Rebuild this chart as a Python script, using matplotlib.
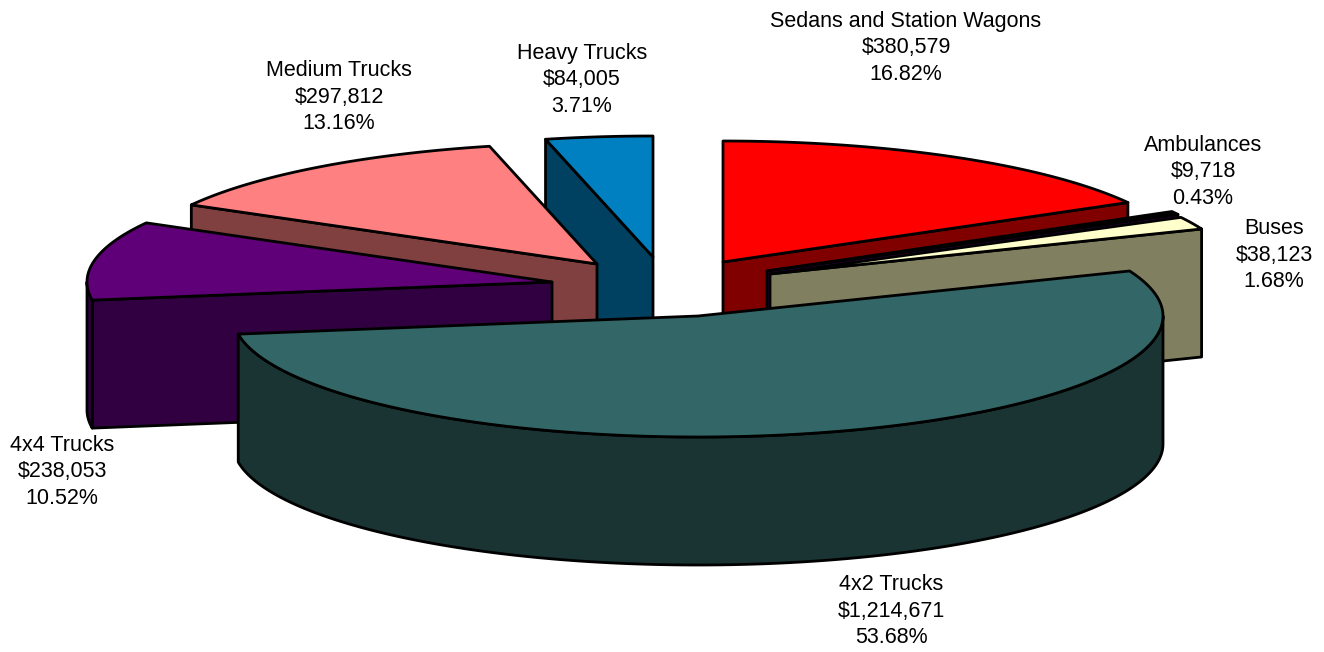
import numpy as np
import matplotlib
matplotlib.use("Agg")
import matplotlib.pyplot as plt
from matplotlib.patches import Polygon

categories = ["Sedans and Station Wagons", "Ambulances", "Buses", "4x2 Trucks",
              "4x4 Trucks", "Medium Trucks", "Heavy Trucks"]
values = [380579, 9718, 38123, 1214671, 238053, 297812, 84005]

top_colors = ["#FF0000", "#000000", "#FFFFCC", "#336666", "#600078", "#FF8080", "#0080C0"]
side_colors = ["#800000", "#300040", "#808060", "#1A3333", "#300040", "#804040", "#004060"]

# layout: where each exploded slice's apex sits (pixels)
apex_x = [723, 767, 770, 698, 552, 597, 653]
apex_y = [262, 271, 274, 316, 282, 264, 257]
label_x = [906, 1203, 1274, 891, 62, 339, 582]
label_y = [48, 172, 255, 611, 472, 97, 80]
RX, RY, DEPTH = 465, 121, 128
draw_order = [6, 5, 4, 0, 1, 2, 3]

plt.rcParams["font.family"] = ["Liberation Sans", "DejaVu Sans"]
fig = plt.figure(figsize=(13.24, 6.52), dpi=100)
ax = fig.add_axes([0, 0, 1, 1])
ax.set_xlim(0, 1324)
ax.set_ylim(652, 0)
ax.axis("off")

total = sum(values)
edges = np.concatenate([[0], np.cumsum(values)]) / total * 2 * np.pi
LW = 2.0


def rim(ax0, ay0, a):
    return ax0 + RX * np.sin(a), ay0 - RY * np.cos(a)


def add(pts, color, z):
    ax.add_patch(Polygon(pts, closed=True, facecolor=color, edgecolor="black",
                         linewidth=LW, joinstyle="round", zorder=z))


for z, i in enumerate(draw_order):
    a0, a1 = edges[i], edges[i + 1]
    cx, cy = apex_x[i], apex_y[i]
    base = z * 10
    # cut faces
    for a, show in ((a0, np.pi < a0 < 2 * np.pi), (a1, 0 < a1 < np.pi)):
        if show:
            x, y = rim(cx, cy, a)
            add([(cx, cy), (x, y), (x, y + DEPTH), (cx, cy + DEPTH)], side_colors[i], base + 1)
    # outer wall
    lo, hi = max(a0, np.pi / 2), min(a1, 3 * np.pi / 2)
    if lo < hi:
        t = np.linspace(lo, hi, 200)
        x, y = rim(cx, cy, t)
        add(np.r_[np.c_[x, y], np.c_[x[::-1], y[::-1] + DEPTH]], side_colors[i], base + 2)
    # top face
    t = np.linspace(a0, a1, 200)
    x, y = rim(cx, cy, t)
    add(np.r_[[(cx, cy)], np.c_[x, y]], top_colors[i], base + 3)

for i, name in enumerate(categories):
    pct = values[i] / total * 100
    ax.text(label_x[i], label_y[i], f"{name}\n${values[i]:,}\n{pct:.2f}%",
            ha="center", va="center", fontsize=15.5, color="black",
            linespacing=1.33, zorder=200)

fig.savefig("out.png", dpi=100, facecolor="white")
